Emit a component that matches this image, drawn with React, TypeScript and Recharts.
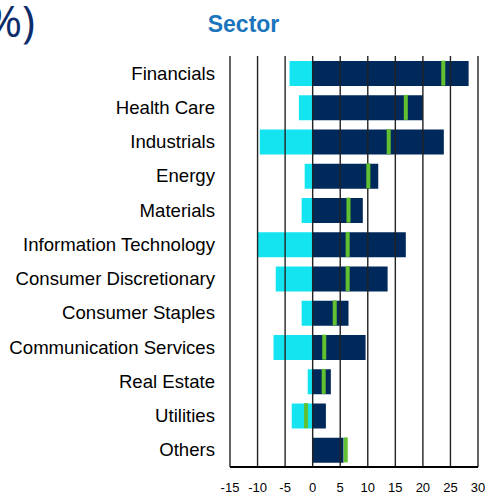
import { ComposedChart, Bar, Scatter, XAxis, YAxis, ReferenceLine } from 'recharts';

const sectors = [
    'Financials',
    'Health Care',
    'Industrials',
    'Energy',
    'Materials',
    'Information Technology',
    'Consumer Discretionary',
    'Consumer Staples',
    'Communication Services',
    'Real Estate',
    'Utilities',
    'Others',
];
const shortPos = [-4.2, -2.5, -9.6, -1.45, -2.0, -10.0, -6.7, -2.0, -7.1, -0.9, -3.8, 0];
const longPos = [28.3, 20.0, 23.8, 11.9, 9.1, 16.9, 13.6, 6.5, 9.6, 3.3, 2.4, 5.6];
const netPos = [23.7, 16.9, 13.8, 10.1, 6.5, 6.35, 6.35, 4.0, 2.1, 2.0, -1.2, 6.0];
const xTicks = [-15, -10, -5, 0, 5, 10, 15, 20, 25, 30];

const data = sectors.map((name, i) => ({
    name,
    short: shortPos[i],
    long: longPos[i],
    net: netPos[i],
}));

const NetMarker = (props: any) => {
    const { cx, cy } = props;
    if (cx == null || cy == null) return null;
    return <rect x={cx - 2} y={cy - 12.5} width={4} height={25} fill="#62c130" />;
};

export default function App() {
    return (
        <div style={{ position: 'absolute', left: 0, top: 0, width: 488, height: 496, overflow: 'hidden', background: '#fff' }}>
            <ComposedChart
                width={488}
                height={496}
                data={data}
                layout="vertical"
                stackOffset="sign"
                barSize={25}
                margin={{ top: 56, right: 10, bottom: 0, left: 0 }}
            >
                <XAxis
                    type="number"
                    domain={[-15, 30]}
                    ticks={xTicks}
                    interval={0}
                    height={29}
                    tickSize={0}
                    tickMargin={16}
                    axisLine={{ stroke: '#000', strokeWidth: 2 }}
                    tickLine={false}
                    tick={{ fill: '#000', fontSize: 13, fontFamily: 'Liberation Sans, Arial, sans-serif' }}
                />
                <YAxis
                    type="category"
                    dataKey="name"
                    width={230}
                    axisLine={false}
                    tickLine={false}
                    tickSize={0}
                    tickMargin={15}
                    interval={0}
                    tick={{ fill: '#000', fontSize: 18.6, fontFamily: 'Liberation Sans, Arial, sans-serif' }}
                />
                {/* vertical grid lines, drawn first so the bars sit on top */}
                {xTicks.map((t) => (
                    <ReferenceLine key={t} x={t} stroke="#222" strokeWidth={1.4} />
                ))}
                <Bar dataKey="short" stackId="a" fill="#14e4f0" isAnimationActive={false} />
                <Bar dataKey="long" stackId="a" fill="#00295b" isAnimationActive={false} />
                <Scatter dataKey="net" shape={NetMarker} isAnimationActive={false} />
            </ComposedChart>
            <svg width={488} height={60} style={{ position: 'absolute', left: 0, top: 0, pointerEvents: 'none' }}>
                <text x={35} y={37} textAnchor="end" fontSize={44} fill="#0c2d6b" fontFamily="Open Sans, sans-serif">
                    (%)
                </text>
                <text x={243.5} y={32} textAnchor="middle" fontSize={23} fontWeight="bold" fill="#1b75bc" fontFamily="Liberation Sans, Arial, sans-serif">
                    Sector
                </text>
            </svg>
        </div>
    );
}
